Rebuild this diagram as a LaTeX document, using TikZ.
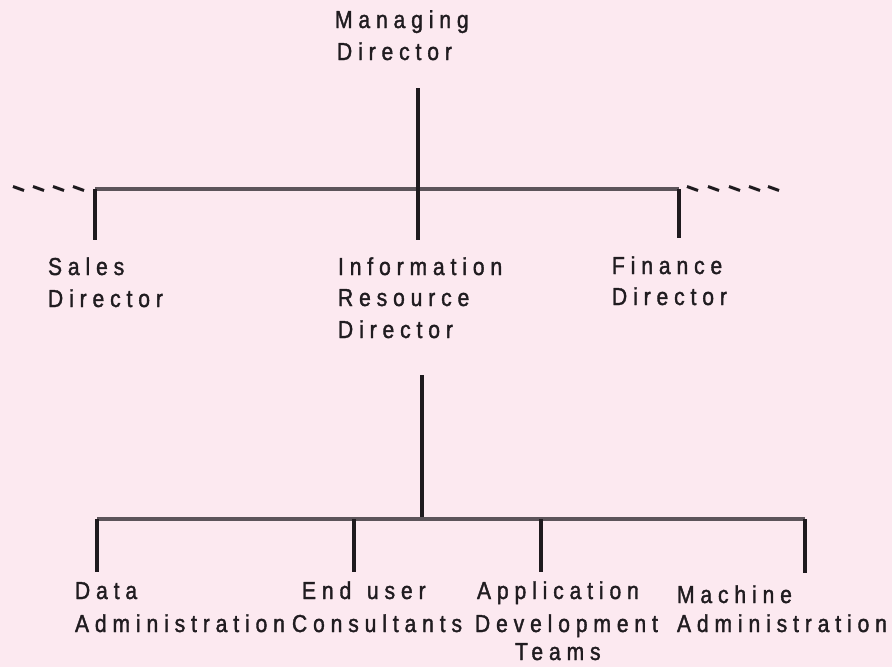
\documentclass[tikz,border=0pt]{standalone}
\usepackage{fontspec}
\setmainfont{Liberation Sans}[LetterSpace=24, FakeStretch=0.86, FakeBold=1.5]
\definecolor{bgpink}{RGB}{252,233,240}
\definecolor{txt}{RGB}{32,28,32}
\definecolor{vline}{RGB}{30,26,30}
\definecolor{hbar}{RGB}{92,84,90}
\tikzset{
  lbl/.style={anchor=base west, inner sep=0pt, outer sep=0pt, text=txt, font=\fontsize{24.5}{28}\selectfont},
  vcon/.style={draw=vline, line width=3.6pt},
  hcon/.style={draw=hbar, line width=4.5pt},
  dashmark/.style={draw=vline, line width=3pt},
}
\begin{document}
\begin{tikzpicture}[x=1pt,y=-1pt]
\fill[bgpink] (0,0) rectangle (892,667);
\useasboundingbox (0,0) rectangle (892,667);

% text
\node[lbl] (md1) at (335,28) {Managing};
\node[lbl] (md2) at (337,60) {Director};
\node[lbl] (sd1) at (48,275) {Sales};
\node[lbl] (sd2) at (48,307) {Director};
\node[lbl] (ir1) at (338,275) {Information};
\node[lbl] (ir2) at (338,306) {Resource};
\node[lbl] (ir3) at (338,338) {Director};
\node[lbl] (fd1) at (612,274) {Finance};
\node[lbl] (fd2) at (612,305) {Director};
\node[lbl] (da1) at (75,599) {Data};
\node[lbl] (da2) at (75,632) {Administration};
\node[lbl] (eu1) at (302,599) {End\hspace{4pt} user};
\node[lbl] (eu2) at (292,632) {Consultants};
\node[lbl] (ad1) at (477,599) {Application};
\node[lbl] (ad2) at (475,632) {Development};
\node[lbl] (ad3) at (515,660) {Teams};
\node[lbl] (ma1) at (677,603) {Machine};
\node[lbl] (ma2) at (677,632) {Administration};

% connector points
\coordinate (mdb) at (418,88);
\coordinate (tjL) at (95,189);
\coordinate (tjM) at (418,189);
\coordinate (tjR) at (679,189);
\coordinate (sdt) at (95,240);
\coordinate (irt) at (418,240);
\coordinate (fdt) at (679,238);
\coordinate (irb) at (422,375);
\coordinate (bjM) at (422,519);
\coordinate (bj1) at (97,519);
\coordinate (bj2) at (354,519);
\coordinate (bj3) at (541,519);
\coordinate (bj4) at (805,519);
\coordinate (dat) at (97,572);
\coordinate (eut) at (354,572);
\coordinate (adt) at (541,572);
\coordinate (mat) at (805,573);

\draw[hcon] (tjL) -- (tjR);
\draw[vcon] (mdb) -- (tjM);
\draw[vcon] (tjL) -- (sdt);
\draw[vcon] (tjM) -- (irt);
\draw[vcon] (tjR) -- (fdt);

\draw[vcon] (irb) -- (bjM);
\draw[hcon] (bj1) -- (bj4);
\draw[vcon] (bj1) -- (dat);
\draw[vcon] (bj2) -- (eut);
\draw[vcon] (bj3) -- (adt);
\draw[vcon] (bj4) -- (mat);

% dashed extensions
\foreach \x in {13,33,53,73}
  \draw[dashmark] (\x,186.5) -- (\x+11,190.5);
\foreach \x in {687,708,729,749,768}
  \draw[dashmark] (\x,186.5) -- (\x+11,190.5);
\end{tikzpicture}
\end{document}
